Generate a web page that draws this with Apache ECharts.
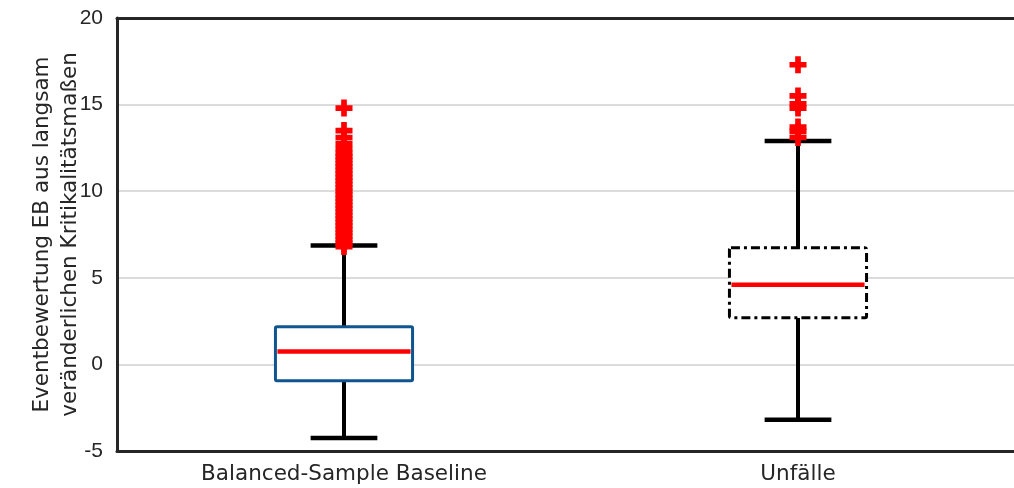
<!DOCTYPE html>
<html>
<head>
<meta charset="utf-8">
<script src="https://cdn.jsdelivr.net/npm/echarts@6/dist/echarts.min.js"></script>
<style>html,body{margin:0;padding:0;background:#fff;}#c{width:1014px;height:488px;}</style>
</head>
<body>
<div id="c"></div>
<script>
// ---- data ----
const categories = ['Balanced-Sample Baseline', 'Unfälle'];
// [low whisker, Q1, median, Q3, high whisker]
const boxStats = [
  [-4.25, -0.95, 0.75, 2.18, 6.86],
  [-3.2, 2.7, 4.6, 6.74, 12.9]
];
const outliersBaseline = [6.8, 7.0, 7.2, 7.4, 7.6, 7.8, 8.0, 8.2, 8.4, 8.6, 8.8, 9.0, 9.2, 9.4, 9.6, 9.8,
  10.0, 10.2, 10.4, 10.6, 10.8, 11.0, 11.2, 11.4, 11.6, 11.8, 12.0, 12.2, 12.45, 12.75, 13.1, 13.5, 14.8];
const outliersUnfaelle = [13.1, 13.45, 13.7, 14.8, 15.05, 15.5, 17.3];
const yTicks = { min: -5, max: 20, interval: 5 };

// ---- styles ----
const boxColors = ['#0f5590', '#000000'];
const boxDashes = [null, [9, 4, 3, 4]];

const boxData = boxStats.map((s, i) => [i].concat(s));
const outlierData = outliersBaseline.map(v => [0, v]).concat(outliersUnfaelle.map(v => [1, v]));

const chart = echarts.init(document.getElementById('c'), null, { renderer: 'canvas' });
const tickFont = '"Liberation Sans", Arial, sans-serif';
const textFont = '"DejaVu Sans", sans-serif';

chart.setOption({
  animation: false,
  backgroundColor: '#ffffff',
  grid: { left: 117, top: 18, width: 908, height: 433, outerBoundsMode: 'none', containLabel: false },
  xAxis: [{
    type: 'category',
    data: categories,
    axisLine: { onZero: false, lineStyle: { color: '#262626', width: 3 } },
    axisTick: { show: false },
    axisLabel: { color: '#262626', fontSize: 21.5, fontFamily: textFont, margin: 12 },
    splitLine: { show: false }
  }, {
    type: 'category',
    data: categories,
    position: 'top',
    axisLine: { onZero: false, lineStyle: { color: '#262626', width: 3 } },
    axisTick: { show: false },
    axisLabel: { show: false },
    splitLine: { show: false }
  }],
  yAxis: {
    type: 'value',
    min: yTicks.min, max: yTicks.max, interval: yTicks.interval,
    name: 'Eventbewertung EB aus langsam\nveränderlichen Kritikalitätsmaßen',
    nameLocation: 'middle',
    nameRotate: 90,
    nameGap: 33,
    nameMoveOverlap: false,
    nameTextStyle: { color: '#262626', fontSize: 21.5, fontFamily: textFont, lineHeight: 28 },
    axisLine: { show: true, onZero: false, lineStyle: { color: '#262626', width: 3 } },
    axisTick: { show: false },
    axisLabel: { color: '#262626', fontSize: 21, fontFamily: tickFont, margin: 14 },
    splitLine: { show: true, lineStyle: { color: '#dcdcdc', width: 2 } }
  },
  series: [
    {
      type: 'custom',
      data: boxData,
      z: 2,
      renderItem: function (params, api) {
        const i = api.value(0);
        const bandW = api.size([1, 0])[0];
        const bw = bandW * 0.302;
        const cw = bandW * 0.147;
        const pLow = api.coord([i, api.value(1)]);
        const pQ1 = api.coord([i, api.value(2)]);
        const pMed = api.coord([i, api.value(3)]);
        const pQ3 = api.coord([i, api.value(4)]);
        const pHigh = api.coord([i, api.value(5)]);
        const cx = pMed[0];
        const blk = { stroke: '#000', lineWidth: 4 };
        const boxStyle = { fill: '#fff', stroke: boxColors[i], lineWidth: 3 };
        if (boxDashes[i]) boxStyle.lineDash = boxDashes[i];
        return {
          type: 'group',
          children: [
            { type: 'line', shape: { x1: cx, y1: pLow[1], x2: cx, y2: pQ1[1] }, style: blk },
            { type: 'line', shape: { x1: cx, y1: pQ3[1], x2: cx, y2: pHigh[1] }, style: blk },
            { type: 'line', shape: { x1: cx - cw / 2, y1: pLow[1], x2: cx + cw / 2, y2: pLow[1] }, style: { stroke: '#000', lineWidth: 4.5 } },
            { type: 'line', shape: { x1: cx - cw / 2, y1: pHigh[1], x2: cx + cw / 2, y2: pHigh[1] }, style: { stroke: '#000', lineWidth: 4.5 } },
            { type: 'rect', shape: { x: cx - bw / 2, y: pQ3[1], width: bw, height: pQ1[1] - pQ3[1], r: 1.5 }, style: boxStyle },
            { type: 'line', shape: { x1: cx - bw / 2 + 2, y1: pMed[1], x2: cx + bw / 2 - 2, y2: pMed[1] }, style: { stroke: '#ff0000', lineWidth: 4.5 } }
          ]
        };
      }
    },
    {
      type: 'scatter',
      data: outlierData,
      z: 3,
      symbol: 'path://M4,0H8V4H12V8H8V12H4V8H0V4H4Z',
      symbolSize: 17,
      itemStyle: { color: '#ff0000', opacity: 1 },
      silent: true
    }
  ]
});
</script>
</body>
</html>
